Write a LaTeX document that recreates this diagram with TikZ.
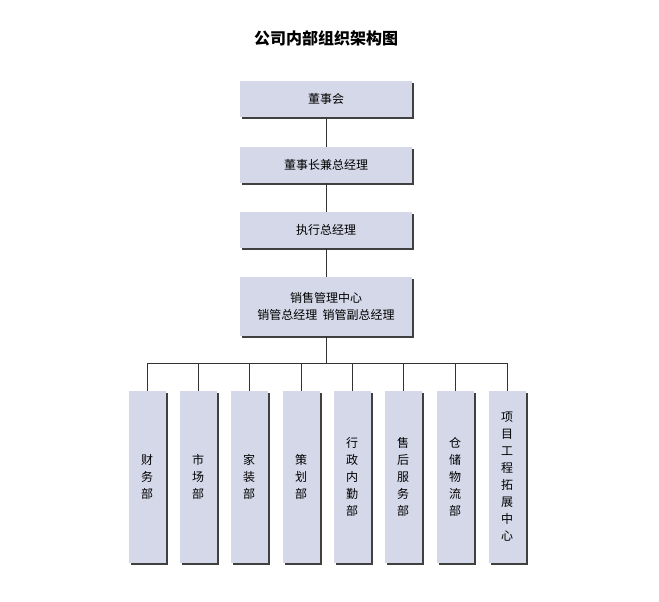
\documentclass[tikz,border=0pt]{standalone}
\usepackage{fontspec}
\setmainfont{Noto Sans CJK SC}
\usetikzlibrary{shadows}
\tikzset{
  orgbox/.style={draw=none, fill=boxfill, align=center, font=\fontsize{12}{17}\selectfont,
    drop shadow={shadow xshift=2pt, shadow yshift=-2pt, fill=black!75, opacity=1}},
  topbox/.style={orgbox, minimum width=172pt, minimum height=36pt},
  deptbox/.style={orgbox, minimum width=37pt, minimum height=172pt},
  link/.style={draw=black!80, line width=0.8pt}
}
\definecolor{boxfill}{HTML}{D5D8E8}
\begin{document}
\begin{tikzpicture}[x=1pt, y=-1pt]
\useasboundingbox[fill=white] (0,0) rectangle (659,602);
\node (title) at (326,38) {\fontsize{16}{18}\selectfont\bfseries 公司内部组织架构图};

\node[topbox] (board) at (326,99) {董事会};
\node[topbox] (chair) at (326,165) {董事长兼总经理};
\node[topbox] (ceo) at (326,230) {执行总经理};
\node[topbox, minimum height=59pt] (sales) at (326,306.5) {销售管理中心\\销管总经理\ \ 销管副总经理};

\draw[link] (board) -- (chair);
\draw[link] (chair) -- (ceo);
\draw[link] (ceo) -- (sales);

\coordinate (bus) at (326,363);
\draw[link] (sales) -- (bus);

% departments
\foreach \x/\name/\txt in {147/fin/财\\务\\部, 198/mkt/市\\场\\部, 249/home/家\\装\\部,
    301/plan/策\\划\\部, 352/admin/行\\政\\内\\勤\\部, 403/after/售\\后\\服\\务\\部,
    455/store/仓\\储\\物\\流\\部, 507/proj/项\\目\\工\\程\\拓\\展\\中\\心} {
  \node[deptbox] (\name) at (\x,477) {\txt};
  \coordinate (t\name) at (\x,363);
  \draw[link] (t\name) -- (\name);
}
\draw[link] (tfin) -- (tproj);
\end{tikzpicture}
\end{document}
